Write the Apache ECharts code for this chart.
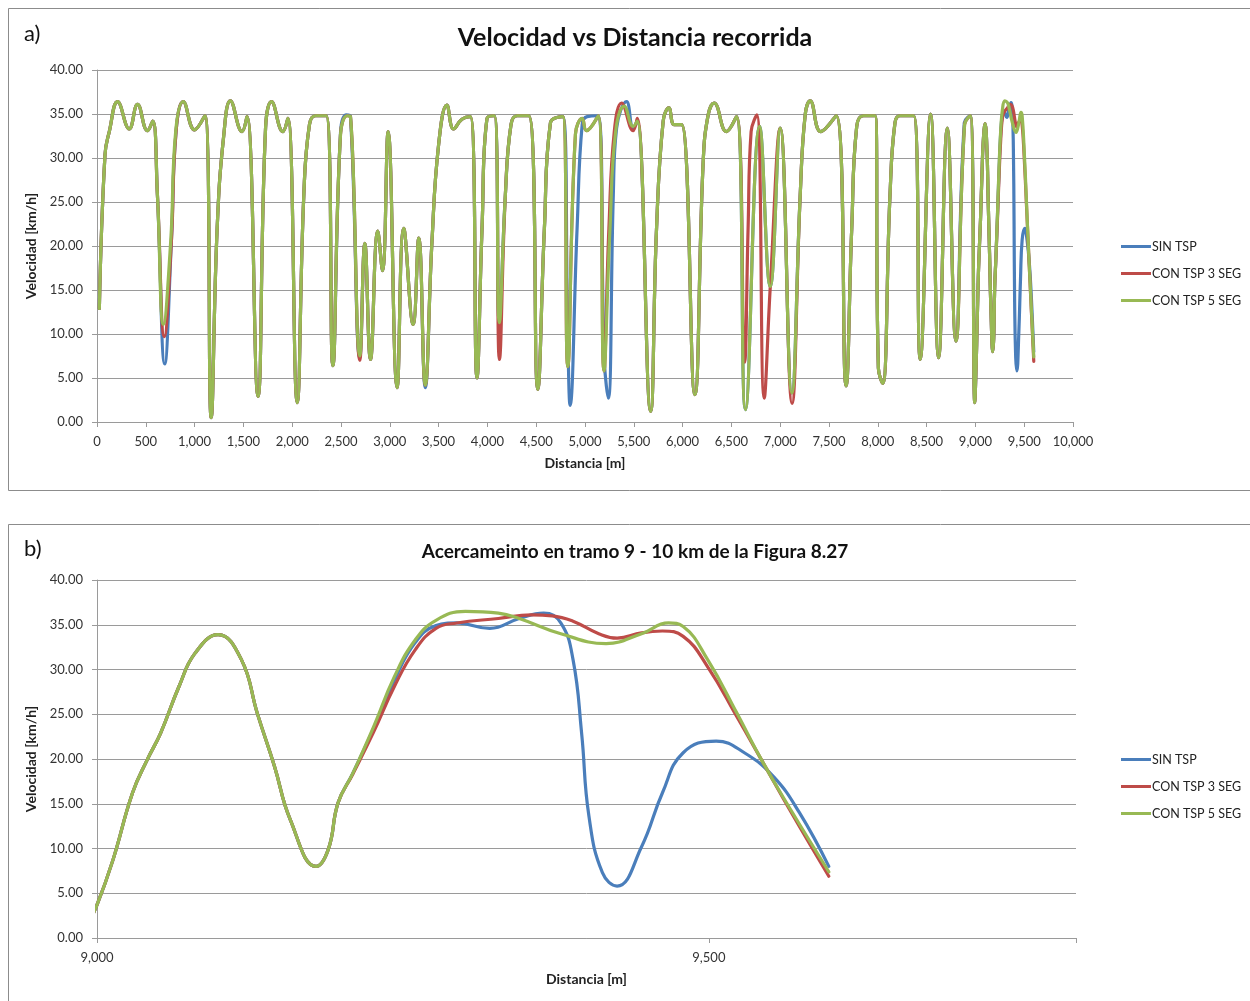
<!DOCTYPE html>
<html>
<head>
<meta charset="utf-8">
<title>Velocidad vs Distancia recorrida</title>
<script src="https://cdn.jsdelivr.net/npm/echarts@6/dist/echarts.min.js"></script>
<style>
  html, body { margin: 0; padding: 0; background: #ffffff; }
  #chart { width: 1250px; height: 1001px; }
</style>
</head>
<body>
<div id="chart"></div>
<script>
// Series names
const nombresSeries = ['SIN TSP', 'CON TSP 3 SEG', 'CON TSP 5 SEG'];

// Titles and axis names
const tituloA = 'Velocidad vs Distancia recorrida';
const tituloB = 'Acercameinto en tramo 9 - 10 km de la Figura 8.27';
const nombreEjeX = 'Distancia [m]';
const nombreEjeY = 'Velocidad [km/h]';

// Speed profile [distance m, speed km/h] — without signal priority
const sinTsp = [
  [24, 12.9], [82, 30.4], [126, 33], [211, 36.4], [330, 33.3], [415, 36.1], [517, 33.1], [571, 34.2],
  [619, 25.8], [694, 6.6], [762, 20.5], [810, 33], [884, 36.4], [1000, 33.2], [1105, 34.8],
  [1170, 0.5], [1231, 22], [1299, 32.6], [1367, 36.5], [1486, 33], [1537, 34.7], [1649, 2.9],
  [1727, 33.4], [1788, 36.4], [1904, 33], [1956, 34.5], [2051, 2.2], [2119, 25.8], [2177, 33.8],
  [2239, 34.8], [2348, 34.8], [2416, 6.4], [2495, 32.9], [2555, 34.9], [2597, 34.7], [2693, 7.3],
  [2744, 20.3], [2802, 7.1], [2877, 21.7], [2925, 17.2], [2983, 33], [3075, 3.9], [3143, 22],
  [3239, 11.1], [3297, 20.9], [3363, 3.9], [3432, 20.5], [3500, 31.5], [3585, 36], [3654, 33.3],
  [3739, 34.4], [3825, 34.7], [3893, 5], [3945, 22], [3996, 34.5], [4071, 34.8], [4122, 11.3],
  [4184, 25.8], [4242, 33.8], [4304, 34.8], [4423, 34.8], [4516, 3.7], [4584, 22], [4646, 34],
  [4772, 34.7], [4825, 9], [4847, 1.9], [4919, 22], [4971, 33.8], [5022, 34.7], [5130, 34.8],
  [5198, 7], [5239, 2.7], [5290, 25.8], [5324, 33.4], [5426, 36.4], [5494, 33.4], [5535, 34.2],
  [5672, 1.2], [5733, 22], [5801, 34.2], [5859, 35.7], [5914, 33.8], [5989, 33.8], [6125, 3.1],
  [6211, 29.6], [6262, 34.9], [6323, 36.25], [6449, 33], [6552, 34.7], [6644, 1.4], [6789, 33.6],
  [6898, 15.4], [7000, 33.4], [7119, 3.3], [7205, 25.8], [7256, 34.9], [7307, 36.5], [7416, 33],
  [7573, 34.8], [7675, 4.1], [7733, 22], [7784, 33.6], [7853, 34.8], [7972, 34.8], [8006, 6.1],
  [8050, 4.4], [8125, 25.8], [8176, 34], [8228, 34.8], [8367, 34.8], [8435, 7.1], [8541, 35],
  [8623, 7.3], [8712, 33.4], [8800, 9.2], [8886, 34], [8947, 34.8], [8994, 2.2], [9000, 3.7],
  [9013, 8.7], [9029, 16.2], [9041, 19.9], [9052, 22.9], [9067, 28.1], [9080, 31.8], [9099, 33.9],
  [9118, 31.1], [9131, 25.1], [9145, 19.2], [9158, 13.2], [9179, 8.0], [9189, 9.9], [9197, 15.1],
  [9209, 18.4], [9226, 23.4], [9243, 28.8], [9260, 33.0], [9277, 34.9], [9294, 35.2], [9321, 34.6],
  [9345, 35.7], [9365, 36.3], [9379, 35.2], [9389, 31.1], [9396, 22.9], [9402, 13.6], [9413, 7.3],
  [9425, 5.8], [9445, 10.2], [9462, 16.2], [9479, 20.7], [9506, 22.0], [9529, 20.7], [9553, 18],
  [9574, 14], [9598, 8.0]
];

// Speed profile — priority with 3 s extension
const conTsp3 = [
  [24, 12.9], [82, 30.4], [126, 33], [211, 36.4], [330, 33.3], [415, 36.1], [517, 33.1], [571, 34.2],
  [619, 25.8], [690, 9.7], [762, 20.5], [810, 33], [884, 36.4], [1000, 33.2], [1105, 34.8],
  [1170, 0.5], [1231, 22], [1299, 32.6], [1367, 36.5], [1486, 33], [1537, 34.7], [1649, 2.9],
  [1727, 33.4], [1788, 36.4], [1904, 33], [1956, 34.5], [2051, 2.2], [2119, 25.8], [2177, 33.8],
  [2239, 34.8], [2348, 34.8], [2416, 6.4], [2495, 32.7], [2563, 34.8], [2597, 34.7], [2693, 7.0],
  [2744, 20.3], [2802, 7.1], [2877, 21.7], [2925, 17.2], [2983, 33], [3075, 3.9], [3143, 22],
  [3239, 11.1], [3297, 20.9], [3363, 4.2], [3432, 20.5], [3500, 31.5], [3585, 36], [3654, 33.3],
  [3739, 34.4], [3825, 34.7], [3893, 5], [3945, 22], [3996, 34.5], [4071, 34.8], [4123, 7.1],
  [4184, 25.8], [4242, 33.8], [4304, 34.8], [4423, 34.8], [4516, 3.7], [4584, 22], [4646, 34],
  [4772, 34.7], [4823, 6.3], [4902, 32.7], [4971, 34.5], [5015, 33.1], [5136, 34.8], [5194, 5.8],
  [5245, 22], [5300, 33], [5375, 36.25], [5494, 33.1], [5535, 34.5],
  [5672, 1.2], [5733, 22], [5801, 34.2], [5859, 35.7], [5914, 33.8], [5989, 33.8], [6125, 3.1],
  [6211, 29.6], [6262, 34.9], [6323, 36.25], [6449, 33], [6552, 34.7], [6635, 6.8], [6671, 22],
  [6702, 33], [6761, 34.9], [6836, 2.7], [6898, 15.3], [7000, 33.4], [7121, 2.1], [7205, 25.8],
  [7256, 34.9], [7307, 36.5], [7416, 33],
  [7573, 34.8], [7675, 4.1], [7733, 22], [7784, 33.6], [7853, 34.8], [7972, 34.8], [8006, 6.1],
  [8050, 4.4], [8125, 25.8], [8176, 34], [8228, 34.8], [8367, 34.8], [8435, 7.1], [8541, 35],
  [8623, 7.3], [8712, 33.4], [8800, 9.2], [8889, 33.8], [8947, 34.8], [8994, 2.2], [9000, 3.7],
  [9013, 8.7], [9029, 16.2], [9041, 19.9], [9052, 22.9], [9067, 28.1], [9080, 31.8], [9099, 33.9],
  [9118, 31.1], [9131, 25.1], [9145, 19.2], [9158, 13.2], [9179, 8.0], [9189, 9.9], [9197, 15.1],
  [9209, 18.3], [9226, 23.0], [9243, 28.1], [9260, 32.2], [9277, 34.6], [9294, 35.2], [9328, 35.7],
  [9355, 36.1], [9372, 36.0], [9389, 35.4], [9410, 34.0], [9425, 33.5], [9445, 34.1], [9462, 34.3],
  [9479, 33.7], [9499, 30.3], [9523, 24.7], [9543, 19.9], [9567, 14.1], [9598, 6.9]
];

// Speed profile — priority with 5 s extension
const conTsp5 = [
  [24, 12.9], [82, 30.4], [126, 33], [211, 36.4], [330, 33.3], [415, 36.1], [517, 33.1], [571, 34.2],
  [619, 25.8], [680, 11.1], [755, 20.5], [806, 33], [884, 36.4], [1000, 33.2], [1105, 34.8],
  [1170, 0.5], [1231, 22], [1299, 32.6], [1367, 36.5], [1486, 33], [1537, 34.7], [1649, 2.9],
  [1727, 33.4], [1788, 36.4], [1904, 33], [1956, 34.5], [2051, 2.2], [2119, 25.8], [2177, 33.8],
  [2239, 34.8], [2348, 34.8], [2416, 6.4], [2495, 32.7], [2563, 34.8], [2597, 34.7], [2693, 7.5],
  [2744, 20.3], [2802, 7.1], [2877, 21.7], [2925, 17.2], [2983, 33], [3075, 3.9], [3143, 22],
  [3239, 11.1], [3297, 20.9], [3363, 4.2], [3432, 20.5], [3500, 31.5], [3585, 36], [3654, 33.3],
  [3739, 34.4], [3825, 34.7], [3893, 5], [3945, 22], [3996, 34.5], [4071, 34.8], [4122, 11.3],
  [4184, 25.8], [4242, 33.8], [4304, 34.8], [4423, 34.8], [4516, 3.7], [4584, 22], [4646, 34],
  [4772, 34.7], [4823, 6.3], [4902, 32.7], [4971, 34.5], [5015, 33.1], [5136, 34.8], [5194, 5.8],
  [5256, 22], [5314, 33], [5402, 35.9], [5494, 33.6], [5535, 34.2],
  [5672, 1.2], [5733, 22], [5801, 34.2], [5859, 35.7], [5914, 33.8], [5989, 33.8], [6125, 3.1],
  [6211, 29.6], [6262, 34.9], [6323, 36.25], [6449, 33], [6552, 34.7], [6644, 1.4], [6789, 33.6],
  [6898, 15.4], [7000, 33.4], [7119, 3.3], [7205, 25.8], [7256, 34.9], [7307, 36.5], [7416, 33],
  [7573, 34.8], [7675, 4.1], [7733, 22], [7784, 33.6], [7853, 34.8], [7972, 34.8], [8006, 6.1],
  [8050, 4.4], [8125, 25.8], [8176, 34], [8228, 34.8], [8367, 34.8], [8435, 7.1], [8541, 35],
  [8623, 7.3], [8712, 33.4], [8800, 9.2], [8889, 33.8], [8947, 34.8], [8994, 2.2], [9000, 3.7],
  [9013, 8.7], [9029, 16.2], [9041, 19.9], [9052, 22.9], [9067, 28.1], [9080, 31.8], [9099, 33.9],
  [9118, 31.1], [9131, 25.1], [9145, 19.2], [9158, 13.2], [9179, 8.0], [9189, 9.9], [9197, 15.1],
  [9209, 18.4], [9226, 23.6], [9243, 29.2], [9260, 33.3], [9277, 35.5], [9301, 36.5], [9328, 36.3],
  [9345, 35.7], [9379, 34], [9416, 32.9], [9445, 34], [9467, 35.2], [9479, 34.8], [9499, 31.1],
  [9523, 25.1], [9543, 19.9], [9567, 14.3], [9598, 7.4]
];

const colores = ['#4A7EBB', '#BE4B48', '#98B954'];
const fuente = 'Lato, "Noto Sans", sans-serif';
const gris = '#9A9A9A';

function miles(v) {
  return String(v).replace(/\B(?=(\d{3})+(?!\d))/g, ',');
}

function ejeX(idx, min, max, labelFmt, gap) {
  return {
    type: 'value', gridIndex: idx, min: min, max: max, interval: 500,
    name: nombreEjeX, nameLocation: 'middle', nameGap: gap,
    nameTextStyle: { fontFamily: fuente, fontWeight: 'bold', fontSize: 14, color: '#222' },
    axisLine: { show: true, lineStyle: { color: gris, width: 1 } },
    axisTick: { show: true, length: 5, lineStyle: { color: gris } },
    splitLine: { show: false },
    axisLabel: { fontFamily: fuente, fontSize: 13, color: '#333', margin: 13, formatter: labelFmt }
  };
}

function ejeY(idx) {
  return {
    type: 'value', gridIndex: idx, min: 0, max: 40, interval: 5,
    name: nombreEjeY, nameLocation: 'middle', nameGap: 53, nameRotate: 90,
    nameTextStyle: { fontFamily: fuente, fontWeight: 'bold', fontSize: 14, color: '#222' },
    axisLine: { show: true, lineStyle: { color: gris, width: 1 } },
    axisTick: { show: true, length: 5, lineStyle: { color: gris } },
    splitLine: { show: true, lineStyle: { color: gris, width: 1 } },
    axisLabel: { fontFamily: fuente, fontSize: 13, color: '#333', margin: 14,
      formatter: v => v.toFixed(2) }
  };
}

const datos = [sinTsp, conTsp3, conTsp5];
const series = [];
[0, 1].forEach(g => {
  datos.forEach((d, i) => {
    series.push({
      name: nombresSeries[i], type: 'line', xAxisIndex: g, yAxisIndex: g,
      data: d, smooth: 0.45, showSymbol: false, symbol: 'none', clip: true,
      lineStyle: { color: colores[i], width: 3.2, cap: 'round', join: 'round' },
      itemStyle: { color: colores[i] }, z: 2 + i, animation: false
    });
  });
});

function leyenda(top) {
  return {
    orient: 'vertical', left: 1116, top: top, itemWidth: 30, itemHeight: 3, itemGap: 12,
    icon: 'rect', selectedMode: false, data: nombresSeries,
    textStyle: { fontFamily: fuente, fontSize: 12.5, color: '#222', lineHeight: 15, padding: [0, 0, 0, -4] }
  };
}

const chart = echarts.init(document.getElementById('chart'), null, { renderer: 'canvas' });
chart.setOption({
  backgroundColor: '#ffffff',
  animation: false,
  title: [
    { text: tituloA, left: 630, top: 20, textAlign: 'center',
      textStyle: { fontFamily: fuente, fontWeight: 'bold', fontSize: 25, color: '#111' } },
    { text: tituloB, left: 630, top: 537, textAlign: 'center',
      textStyle: { fontFamily: fuente, fontWeight: 'bold', fontSize: 19, color: '#111' } }
  ],
  legend: [leyenda(234), leyenda(747)],
  grid: [
    { left: 97, top: 70, width: 976, height: 352, containLabel: false },
    { left: 97, top: 580, width: 979, height: 358, containLabel: false }
  ],
  xAxis: [
    ejeX(0, 0, 10000, v => miles(v), 34),
    ejeX(1, 9000, 9800, v => (v % 500 === 0 ? miles(v) : ''), 34)
  ],
  yAxis: [ejeY(0), ejeY(1)],
  graphic: [
    { type: 'rect', shape: { x: 8.5, y: 8.5, width: 1260, height: 482 },
      style: { fill: 'none', stroke: '#8C8C8C', lineWidth: 1 }, silent: true, z: 0 },
    { type: 'rect', shape: { x: 8.5, y: 524.5, width: 1260, height: 500 },
      style: { fill: 'none', stroke: '#8C8C8C', lineWidth: 1 }, silent: true, z: 0 },
    { type: 'text', left: 24, top: 23,
      style: { text: 'a)', font: '22px ' + fuente, fill: '#111' } },
    { type: 'text', left: 24, top: 538,
      style: { text: 'b)', font: '22px ' + fuente, fill: '#111' } }
  ],
  series: series
});
</script>
</body>
</html>
